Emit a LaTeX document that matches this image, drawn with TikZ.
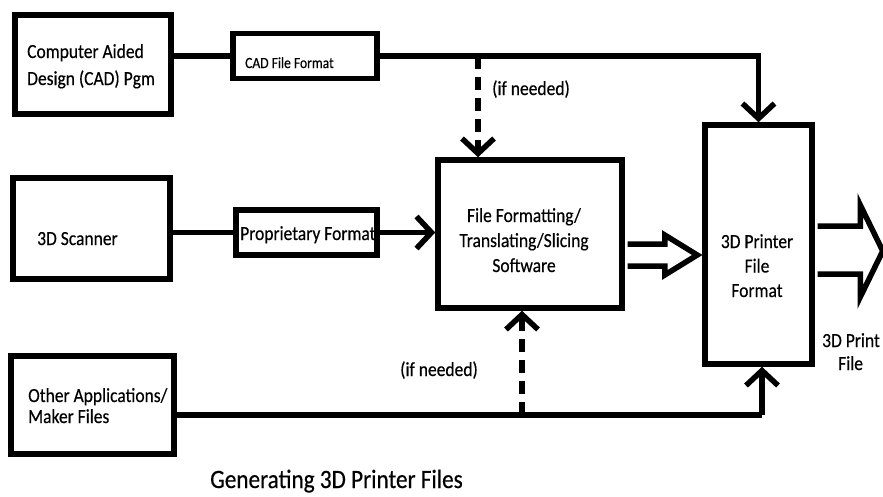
\documentclass[tikz,border=0pt]{standalone}
\usepackage{fontspec}
\setmainfont{Carlito}[FakeStretch=0.875,FakeBold=0.4]
\usetikzlibrary{arrows.meta,calc}
\begin{document}
\begin{tikzpicture}[x=1pt,y=-1pt,
  box/.style={draw,line width=5.5pt,inner sep=0pt},
  conn/.style={line width=5.5pt},
  arr/.style={conn,-{Straight Barb[length=15pt,width=32pt]}},
  dsh/.style={arr,dash pattern=on 13pt off 8pt},
  hol/.style={draw,line width=5.5pt,fill=white,line join=miter},
  txt/.style={inner sep=0pt,font=\fontsize{20}{25}\selectfont},
  small/.style={inner sep=0pt,font=\fontsize{15.5}{16}\selectfont},
  ttl/.style={inner sep=0pt,font=\fontsize{26.5}{28}\selectfont}]
\useasboundingbox[fill=white] (0,0) rectangle (883,496);
% boxes
\node[box,minimum width=156pt,minimum height=99pt] (cad) at (93,64.5) {};
\node[box,minimum width=144pt,minimum height=45pt] (cadfmt) at (305,56) {};
\node[box,minimum width=157pt,minimum height=101pt] (scanner) at (91.5,228.5) {};
\node[box,minimum width=141pt,minimum height=45pt] (prop) at (306.5,232.5) {};
\node[box,minimum width=163pt,minimum height=98pt] (other) at (92.5,405) {};
\node[box,minimum width=184pt,minimum height=148pt] (ffs) at (530,234) {};
\node[box,minimum width=107pt,minimum height=239pt] (printer) at (758.5,244.5) {};
% texts (base anchor of a multi-line node = last line)
\node[txt,anchor=base west,align=left,font=\fontsize{20}{27}\selectfont] (tcad) at (27,85) {Computer Aided\\Design (CAD) Pgm};
\node[small,anchor=base west] (tcadfmt) at (245,68) {CAD File Format};
\node[txt,anchor=base west] (tscan) at (37,245) {3D Scanner};
\node[txt,anchor=base west] (tprop) at (240,240) {Proprietary Format};
\node[txt,anchor=base west,align=left,font=\fontsize{20}{21}\selectfont] (tother) at (28,423) {Other Applications/\\Maker Files};
\node[txt,anchor=base,align=center] (tffs) at (524,272) {File Formatting/\\Translating/Slicing\\Software};
\node[txt,anchor=base,align=center,font=\fontsize{20}{24.5}\selectfont] (tprinter) at (757,297) {3D Printer\\File\\Format};
\node[txt,anchor=base west] (tneed1) at (492,95) {(if needed)};
\node[txt,anchor=base west] (tneed2) at (400,376) {(if needed)};
\node[txt,anchor=base west] (tout1) at (822,347) {3D Print};
\node[txt,anchor=base west] (tout2) at (838,370) {File};
\node[ttl,anchor=base west] (title) at (210,488) {Generating 3D Printer Files};
% connectors
\coordinate (jt) at (478,56);
\coordinate (jb) at (762,415);
\coordinate (jd) at (522,415);
\draw[conn] (cadfmt.west -| cad.east) -- (cadfmt.west);
\draw[arr] (cadfmt.east) -| (printer.north);
\draw[dsh] (jt) -- (jt |- ffs.north);
\draw[conn] (prop.west -| scanner.east) -- (prop.west);
\draw[arr] (prop.east) -- (prop.east -| ffs.west);
\draw[conn] (other.east |- jb) -- (jb);
\draw[arr] (jb) -- (jb |- printer.south);
\draw[dsh] (jd) -- (jd |- ffs.south);
% hollow arrows
\draw[hol] ($(ffs.east)+(2.75,10)$) -- ($(ffs.east)+(40,10)$) -- ($(ffs.east)+(40,1)$)
  -- ($(printer.west)+(-5,10.5)$) -- ($(ffs.east)+(40,41)$) -- ($(ffs.east)+(40,32)$)
  -- ($(ffs.east)+(2.75,32)$);
\draw[hol] ($(printer.east)+(2.75,-18.5)$) -- ($(printer.east)+(45.5,-18.5)$) -- ($(printer.east)+(45.5,-39.5)$)
  -- ($(printer.east)+(68,6.5)$) -- ($(printer.east)+(45.5,52.5)$) -- ($(printer.east)+(45.5,29.5)$)
  -- ($(printer.east)+(2.75,29.5)$);
\end{tikzpicture}
\end{document}
